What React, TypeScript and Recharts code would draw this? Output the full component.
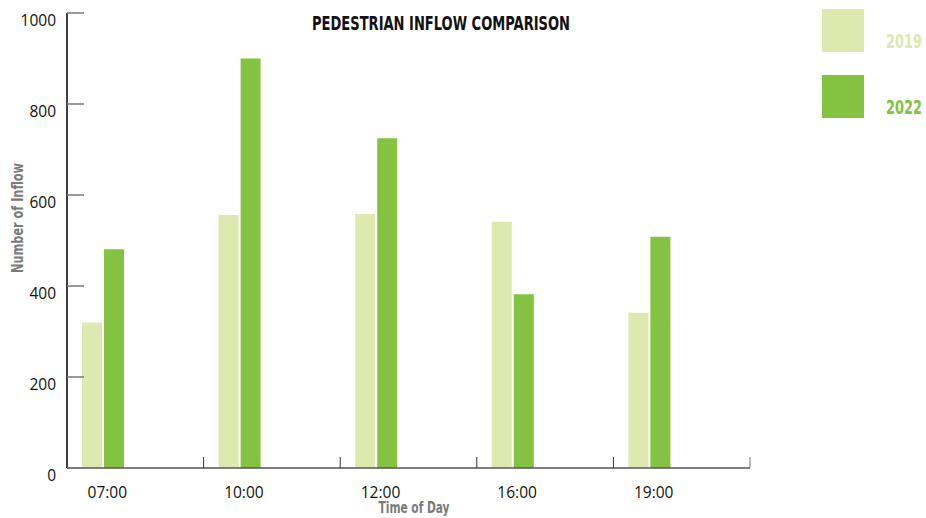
import React from "react";
import { Bar, BarChart, XAxis, YAxis, Legend } from "recharts";

const times = ["07:00", "10:00", "12:00", "16:00", "19:00"];
const inflow2019 = [320, 556, 558, 541, 341];
const inflow2022 = [481, 900, 725, 382, 508];
const yTicks = [0, 200, 400, 600, 800, 1000];

const data = times.map((time, i) => ({
  time,
  y2019: inflow2019[i],
  y2022: inflow2022[i],
}));

const LIGHT = "#dde9ae";
const DARK = "#84c341";
const NARROW = "'DejaVu Sans Condensed', 'Roboto', sans-serif";
const PLAIN = "'Open Sans', 'DejaVu Sans', sans-serif";

const W = 926;
const H = 518;
const legendWidth = 104;
// the legend's width is added to the right offset, so keep it out of the margin
const margin = { top: 13, right: 176 - legendWidth, bottom: 0, left: 0 };
const yAxisWidth = 67;
const xAxisHeight = 50;
const plotWidth = W - margin.left - margin.right - legendWidth - yAxisWidth;
const band = plotWidth / times.length;
// bars sit left of the category center in the original
const shift = 32;

const YTick = (props: any) => {
  const { x, y, payload } = props;
  return (
    <g>
      <line x1={x} x2={x + 17} y1={y} y2={y} stroke="#777" strokeWidth={1.5} />
      <text x={x - 11} y={y + 7} textAnchor="end" dominantBaseline="central" fontFamily={PLAIN} fontSize={15.5} fill="#111">
        {payload.value}
      </text>
    </g>
  );
};

const XTick = (props: any) => {
  const { x, y, payload, index } = props;
  const edge = x - band / 2 + shift;
  return (
    <g>
      <line x1={edge} x2={edge} y1={y} y2={y - 11} stroke={index === 0 ? "none" : "#333"} strokeWidth={1} />
      {index === times.length - 1 && (
        <line x1={edge + band} x2={edge + band} y1={y} y2={y - 11} stroke="#777" strokeWidth={1} />
      )}
      <text x={x + 4} y={y + 24} textAnchor="middle" dominantBaseline="central" fontFamily={PLAIN} fontSize={15.5} fill="#111">
        {payload.value}
      </text>
    </g>
  );
};

const YTitle = (props: any) => {
  const { viewBox } = props;
  const cx = 18;
  const cy = viewBox.y + 205;
  return (
    <text x={cx} y={cy} transform={`rotate(-90 ${cx} ${cy})`} textAnchor="middle" dominantBaseline="central"
      fontFamily={NARROW} fontWeight="bold" fontSize={15.5} fill="#7a7a7a" textLength={110} lengthAdjust="spacingAndGlyphs">
      Number of Inflow
    </text>
  );
};

const XTitle = (props: any) => {
  const { viewBox } = props;
  return (
    <text x={viewBox.x + 347} y={viewBox.y + 40} textAnchor="middle" dominantBaseline="central"
      fontFamily={NARROW} fontWeight="bold" fontSize={15.5} fill="#7a7a7a" textLength={71} lengthAdjust="spacingAndGlyphs">
      Time of Day
    </text>
  );
};

const LegendContent = (props: any) => {
  const items = props.payload || [];
  return (
    <svg width={legendWidth} height={112} style={{ display: "block", overflow: "visible" }}>
      {items.map((item: any, i: number) => (
        <g key={item.value}>
          <rect x={0} y={i * 66} width={42} height={43} fill={item.color} />
          <text x={100} y={i * 66 + 39} textAnchor="end" fontFamily={NARROW} fontWeight="bold" fontSize={19} fill={item.color}
            textLength={36} lengthAdjust="spacingAndGlyphs">
            {item.value}
          </text>
        </g>
      ))}
    </svg>
  );
};

export default function App() {
  return (
    <div style={{ position: "absolute", left: 0, top: 0, width: W, height: H, background: "#fff" }}>
      <BarChart width={W} height={H} data={data} margin={margin} barSize={20} barGap={2}>
        <XAxis
          dataKey="time"
          height={xAxisHeight}
          padding={{ left: -shift, right: shift }}
          axisLine={{ stroke: "#555", strokeWidth: 1.5 }}
          tickLine={false}
          tickSize={0}
          tickMargin={0}
          tick={<XTick />}
          interval={0}
          label={<XTitle />}
        />
        <YAxis
          width={yAxisWidth}
          domain={[0, 1000]}
          ticks={yTicks}
          axisLine={{ stroke: "#000", strokeWidth: 1.5 }}
          tickLine={false}
          tickSize={0}
          tickMargin={0}
          tick={<YTick />}
          interval={0}
          label={<YTitle />}
        />
        <Legend
          layout="vertical"
          verticalAlign="top"
          align="right"
          wrapperStyle={{ position: "absolute", left: 822, top: 9, width: legendWidth }}
          content={<LegendContent />}
        />
        <Bar dataKey="y2019" name="2019" fill={LIGHT} isAnimationActive={false} />
        <Bar dataKey="y2022" name="2022" fill={DARK} isAnimationActive={false} />
      </BarChart>
      <svg width={W} height={40} style={{ position: "absolute", left: 0, top: 0 }}>
        <text x={441} y={30} textAnchor="middle" fontFamily={NARROW} fontWeight="bold" fontSize={19} fill="#111"
          textLength={258} lengthAdjust="spacingAndGlyphs">
          PEDESTRIAN INFLOW COMPARISON
        </text>
      </svg>
    </div>
  );
}
